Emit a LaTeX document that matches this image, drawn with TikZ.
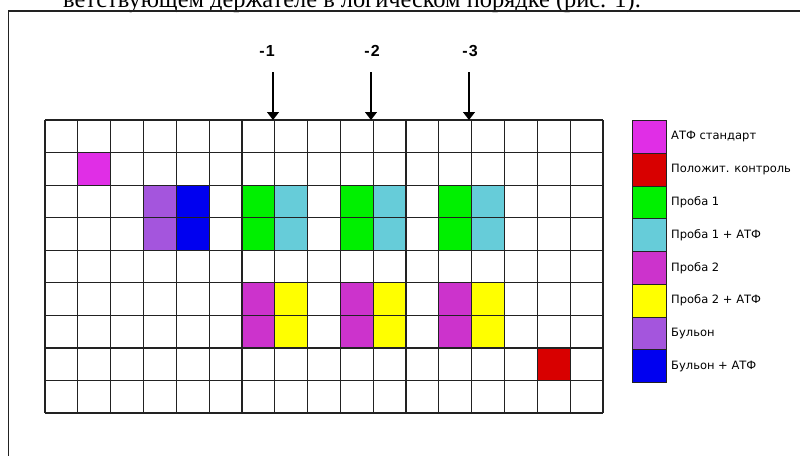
\documentclass[tikz,border=0pt]{standalone}
\usepackage{fontspec}
\setmainfont{Liberation Serif}
\setsansfont{Liberation Sans}
\newfontfamily\legendfont{DejaVu Sans}
\usetikzlibrary{arrows.meta}
\definecolor{atfc}{HTML}{E02EE6}
\definecolor{posctl}{HTML}{D80000}
\definecolor{pac}{HTML}{00F000}
\definecolor{pbc}{HTML}{66CCD9}
\definecolor{pcc}{HTML}{CC33CC}
\definecolor{pdc}{HTML}{FFFF00}
\definecolor{bulc}{HTML}{A455DD}
\definecolor{bulac}{HTML}{0000F0}
\definecolor{gridc}{HTML}{222222}
\tikzset{
  gridline/.style={draw=gridc, line width=1.2pt},
  legbox/.style={draw=gridc, line width=1pt, minimum width=34pt, minimum height=32.75pt, anchor=north west, inner sep=0pt},
  legtext/.style={anchor=west, font=\legendfont\fontsize{11.5}{11.5}\selectfont, inner sep=0pt},
  numlab/.style={font=\sffamily\bfseries\fontsize{16}{16}\selectfont, inner sep=0pt},
  pointer/.style={draw=black, line width=1.2pt, -{Triangle[width=12pt,length=8pt]}},
}
\newcommand{\wellcell}[3]{\fill[fill=#3] ({45+(#1)*32.82},{120+(#2)*32.56}) rectangle ++(32.82,32.56);}
\begin{document}
\begin{tikzpicture}[x=1pt,y=-1pt]
\useasboundingbox (0,0) rectangle (800,455);
\fill[white] (0,0) rectangle (800,455);
\begin{scope}
\clip (0,0) rectangle (800,455);
\node[anchor=base west, font=\fontsize{24.4}{24.4}\selectfont, inner sep=0pt] (cap) at (63,7) {ветствующем держателе в логическом порядке (рис. 1).};
\end{scope}
% frame
\draw[draw=gridc, line width=1.6pt] (8.5,456) -- (8.5,11) -- (801,11);
% coloured wells
\wellcell{1}{1}{atfc}
\wellcell{3}{2}{bulc}\wellcell{3}{3}{bulc}
\wellcell{4}{2}{bulac}\wellcell{4}{3}{bulac}
\foreach \c in {6,9,12}{
  \wellcell{\c}{2}{pac}\wellcell{\c}{3}{pac}
  \wellcell{\c+1}{2}{pbc}\wellcell{\c+1}{3}{pbc}
  \wellcell{\c}{5}{pcc}\wellcell{\c}{6}{pcc}
  \wellcell{\c+1}{5}{pdc}\wellcell{\c+1}{6}{pdc}
}
\wellcell{15}{7}{posctl}
% grid
\foreach \i in {0,...,17} \draw[gridline] (45+\i*32.82,120) -- ++(0,293);
\foreach \j in {0,...,9} \draw[gridline] (45,120+\j*32.56) -- ++(558,0);
% arrows
\foreach \k/\x/\lx in {1/273/267,2/371/372,3/469/470}{
  \node[numlab] (n\k) at (\lx,51) {-\kern1.2pt\k};
  \coordinate (s\k) at (\x,72);
  \coordinate (e\k) at (\x,120);
  \draw[pointer] (s\k) -- (e\k);
}
% legend
\foreach \i/\col/\txt in {0/atfc/АТФ стандарт,1/posctl/Положит. контроль,2/pac/Проба 1,3/pbc/Проба 1 + АТФ,4/pcc/Проба 2,5/pdc/Проба 2 + АТФ,6/bulc/Бульон,7/bulac/Бульон + АТФ}{
  \node[legbox, fill=\col] (L\i) at (632,120+\i*32.75) {};
  \node[legtext] (T\i) at ([xshift=4pt]L\i.east) {\txt};
}
\end{tikzpicture}
\end{document}
